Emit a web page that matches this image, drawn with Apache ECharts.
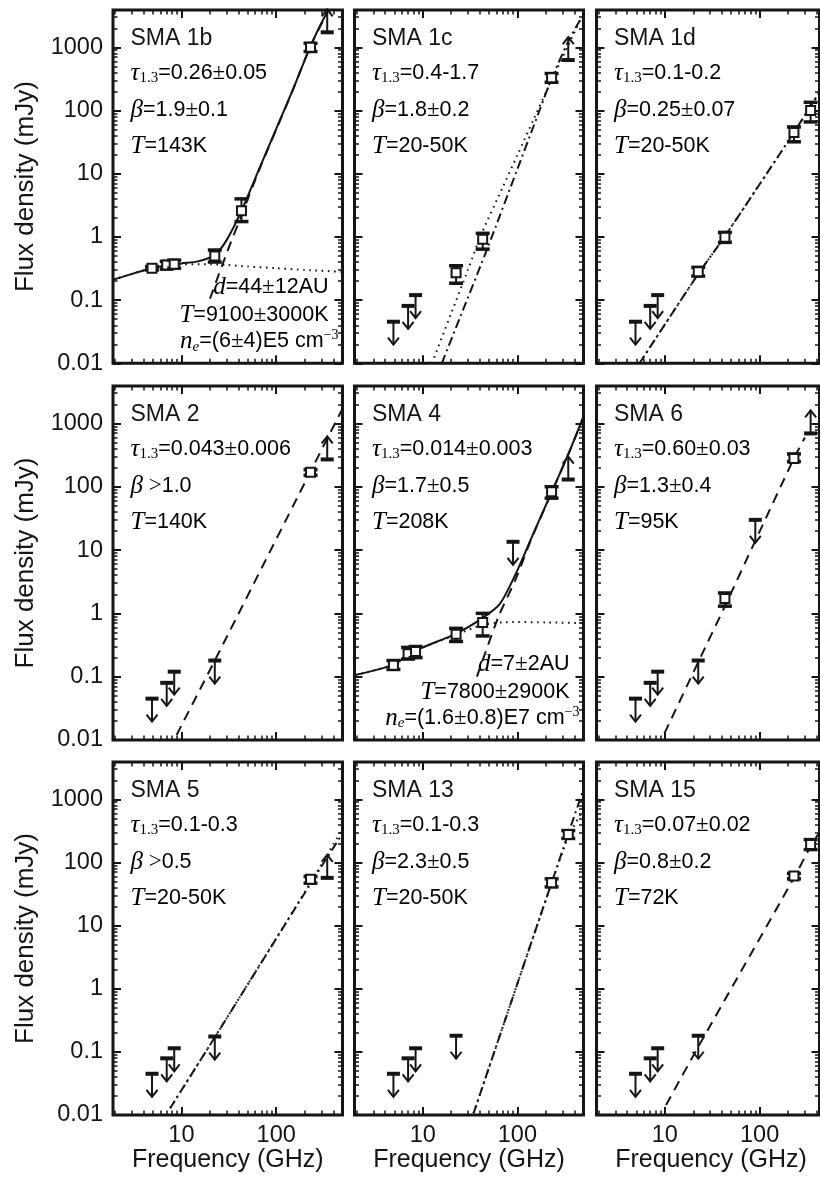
<!DOCTYPE html>
<html lang="en">
<head>
<meta charset="UTF-8">
<title>SMA SED fits</title>
<script src="https://cdn.jsdelivr.net/npm/echarts@6/dist/echarts.min.js"></script>
<style>
  html, body { margin: 0; padding: 0; background: #fff; }
  #main { width: 820px; height: 1178px; }
</style>
</head>
<body>
<div id="main"></div>
<script>
var ink = '#151515';
var grey = '#6a6a6a';
var sans = '"Liberation Sans", Arial, Helvetica, sans-serif';
var serif = '"Liberation Serif", "DejaVu Serif", serif';

// tick labels
var yTickLabels = ['0.01', '0.1', '1', '10', '100', '1000'];
var xTickLabels = ['10', '100'];

// ---- data: [GHz, mJy, low, high] for detections, [GHz, mJy] for limits, [GHz, mJy] for model curves
// SMA 1b
var sma1bPoints = [[4.9, 0.32, 0.30, 0.34], [7.0, 0.36, 0.31, 0.41], [8.4, 0.37, 0.32, 0.43], [22.5, 0.50, 0.40, 0.62], [43, 2.6, 1.75, 4.0], [230, 1000, 860, 1160]];
var sma1bUpper = [];
var sma1bLower = [[345, 1730]];
var sma1bTotal = [[1.9, 0.21], [4.9, 0.32], [10, 0.38], [15, 0.41], [22.5, 0.52], [30, 0.89], [43, 2.6], [67.5, 12.8], [101, 53], [151, 220], [227, 1000], [290, 2200], [355, 3900]];
var sma1bDust = [[20, 0.105], [30, 0.55], [43, 2.2], [67.5, 12.4], [101, 52], [151, 218], [227, 1000], [355, 3900]];
var sma1bFreeFree = [[1.9, 0.21], [4.9, 0.32], [10, 0.37], [20, 0.37], [30, 0.36], [50, 0.34], [100, 0.32], [200, 0.30], [510, 0.28]];

// SMA 1c
var sma1cPoints = [[22.5, 0.27, 0.185, 0.35], [43, 0.92, 0.64, 1.14], [230, 330, 280, 385]];
var sma1cUpper = [[4.9, 0.0455], [7.0, 0.081], [8.4, 0.12]];
var sma1cLower = [[345, 630]];
var sma1cCold = [[12.5, 0.01], [20, 0.062], [30, 0.30], [42, 1.14], [70, 6.1], [100, 19.7], [150, 75], [230, 300], [350, 1130], [480, 3050]];
var sma1cWarm = [[15.9, 0.01], [25, 0.055], [49, 0.7], [100, 11.8], [150, 59], [230, 320], [350, 1300], [460, 2700]];

// SMA 1d
var sma1dPoints = [[22.5, 0.28, 0.24, 0.33], [43, 0.99, 0.82, 1.18], [230, 45, 32, 55], [345, 100, 66, 135]];
var sma1dUpper = [[4.9, 0.0455], [7.0, 0.081], [8.4, 0.12]];
var sma1dLower = [];
var sma1dCold = [[5.4, 0.01], [22.5, 0.26], [42.5, 1.0], [230, 45], [348, 120], [428, 195]];
var sma1dWarm = [[5.4, 0.01], [22.5, 0.26], [42.5, 1.0], [230, 45], [348, 120], [428, 195]];

// SMA 2
var sma2Points = [[230, 170, 152, 186]];
var sma2Upper = [[4.9, 0.045], [7.0, 0.08], [8.4, 0.12], [22.5, 0.18]];
var sma2Lower = [[345, 270]];
var sma2Dust = [[8.9, 0.012], [22.5, 0.18], [230, 174], [491, 1620]];

// SMA 4
var sma4Points = [[4.9, 0.152, 0.13, 0.18], [7.0, 0.23, 0.19, 0.29], [8.4, 0.25, 0.20, 0.30], [22.5, 0.47, 0.36, 0.58], [43, 0.72, 0.44, 1.0], [230, 83, 66, 100]];
var sma4Upper = [[90, 13.5]];
var sma4Lower = [[345, 130]];
var sma4Total = [[1.94, 0.106], [4.9, 0.155], [8, 0.25], [22.5, 0.48], [43, 0.85], [65.6, 1.43], [94.6, 4.0], [142, 16], [235, 88], [360, 380], [497, 1270]];
var sma4Dust = [[37.4, 0.1], [63, 0.88], [94.6, 3.3], [142, 15.5], [235, 87], [360, 375], [500, 1270]];
var sma4FreeFree = [[1.94, 0.106], [4.9, 0.155], [8, 0.25], [22.5, 0.46], [43, 0.66], [70, 0.72], [100, 0.73], [200, 0.72], [510, 0.70]];

// SMA 6
var sma6Points = [[43, 1.72, 1.3, 2.1], [230, 280, 250, 330]];
var sma6Upper = [[4.9, 0.045], [7.0, 0.08], [8.4, 0.12], [22.5, 0.18], [90, 30]];
var sma6Lower = [[345, 695]];
var sma6Dust = [[9.9, 0.0127], [22.5, 0.17], [43, 1.3], [90, 14], [230, 280], [300, 600]];

// SMA 5
var sma5Points = [[230, 54, 47, 60]];
var sma5Upper = [[4.9, 0.045], [7.0, 0.079], [8.4, 0.114], [22.5, 0.175]];
var sma5Lower = [[345, 57]];
var sma5Cold = [[7.6, 0.0128], [22.5, 0.17], [230, 48], [493, 330]];
var sma5Warm = [[7.6, 0.0128], [22.5, 0.17], [230, 46], [493, 278]];

// SMA 13
var sma13Points = [[230, 47.6, 41, 55], [345, 278, 240, 320]];
var sma13Upper = [[4.9, 0.045], [7.0, 0.079], [8.4, 0.114], [22.5, 0.18]];
var sma13Lower = [];
var sma13Cold = [[34.4, 0.0106], [100, 1.2], [230, 47], [345, 250], [500, 700]];
var sma13Warm = [[34.4, 0.0106], [100, 1.2], [230, 47.6], [345, 285], [500, 1440]];

// SMA 15
var sma15Points = [[230, 61, 55, 67], [345, 193, 160, 230]];
var sma15Upper = [[4.9, 0.045], [7.0, 0.079], [8.4, 0.114], [22.5, 0.18]];
var sma15Lower = [];
var sma15Dust = [[10.3, 0.0144], [22.5, 0.12], [230, 57], [345, 180], [428, 300]];

// panel text
var panelNames = ['SMA 1b', 'SMA 1c', 'SMA 1d', 'SMA 2', 'SMA 4', 'SMA 6', 'SMA 5', 'SMA 13', 'SMA 15'];
var tauText = ['=0.26±0.05', '=0.4-1.7', '=0.1-0.2', '=0.043±0.006', '=0.014±0.003', '=0.60±0.03', '=0.1-0.3', '=0.1-0.3', '=0.07±0.02'];
var betaText = ['=1.9±0.1', '=1.8±0.2', '=0.25±0.07', ' >1.0', '=1.7±0.5', '=1.3±0.4', ' >0.5', '=2.3±0.5', '=0.8±0.2'];
var tempText = ['=143K', '=20-50K', '=20-50K', '=140K', '=208K', '=95K', '=20-50K', '=20-50K', '=72K'];
var ffText = [
  {panel: 0, d: '=44±12AU', T: '=9100±3000K', ne: '=(6±4)E5 cm'},
  {panel: 4, d: '=7±2AU', T: '=7800±2900K', ne: '=(1.6±0.8)E7 cm'}
];

// layout
var colLeft = [113, 354.5, 596.5];
var colWidth = [229.5, 229, 223];
var colMax = [500, 500, 428];
var rowTop = [10, 386, 762];
var rowHeight = [353.3, 354, 353];

var solid = 'solid', dashed = [10, 7], dotted = [1.6, 4.6], dashDot = [9, 4, 2, 4];

var panelData = [
  {pts: sma1bPoints, up: sma1bUpper, lo: sma1bLower, lines: [[sma1bFreeFree, dotted], [sma1bDust, dashed], [sma1bTotal, solid]]},
  {pts: sma1cPoints, up: sma1cUpper, lo: sma1cLower, lines: [[sma1cCold, dotted], [sma1cWarm, dashDot]]},
  {pts: sma1dPoints, up: sma1dUpper, lo: sma1dLower, lines: [[sma1dCold, dotted], [sma1dWarm, dashDot]]},
  {pts: sma2Points, up: sma2Upper, lo: sma2Lower, lines: [[sma2Dust, dashed]]},
  {pts: sma4Points, up: sma4Upper, lo: sma4Lower, lines: [[sma4FreeFree, dotted], [sma4Dust, dashed], [sma4Total, solid]]},
  {pts: sma6Points, up: sma6Upper, lo: sma6Lower, lines: [[sma6Dust, dashed]]},
  {pts: sma5Points, up: sma5Upper, lo: sma5Lower, lines: [[sma5Cold, dotted], [sma5Warm, dashDot]]},
  {pts: sma13Points, up: sma13Upper, lo: sma13Lower, lines: [[sma13Cold, dotted], [sma13Warm, dashDot]]},
  {pts: sma15Points, up: sma15Upper, lo: sma15Lower, lines: [[sma15Dust, dashed]]}
];

function sameTick(v, list) {
  for (var i = 0; i < list.length; i++) {
    if (Math.abs(Math.log10(v) - Math.log10(parseFloat(list[i]))) < 1e-6) return list[i];
  }
  return '';
}

function drawDetection(params, api) {
  var c = api.coord([api.value(0), api.value(1)]);
  var top = api.coord([api.value(0), api.value(3)])[1];
  var bot = api.coord([api.value(0), api.value(2)])[1];
  var x = c[0], h = 4.5, cw = 7;
  return {type: 'group', children: [
    {type: 'line', shape: {x1: x, y1: top, x2: x, y2: bot}, style: {stroke: ink, lineWidth: 2}},
    {type: 'line', shape: {x1: x - cw, y1: top, x2: x + cw, y2: top}, style: {stroke: ink, lineWidth: 3.5}},
    {type: 'line', shape: {x1: x - cw, y1: bot, x2: x + cw, y2: bot}, style: {stroke: ink, lineWidth: 3.5}},
    {type: 'rect', shape: {x: x - h, y: c[1] - h, width: 2 * h, height: 2 * h}, style: {fill: '#fff', stroke: ink, lineWidth: 2}}
  ]};
}

// dir 1 = upper limit (arrow down), -1 = lower limit (arrow up)
function drawLimit(dir) {
  return function (params, api) {
    var c = api.coord([api.value(0), api.value(1)]);
    var x = c[0], y = c[1], tip = y + dir * 23;
    return {type: 'group', children: [
      {type: 'rect', shape: {x: x - 6.5, y: y - 2, width: 13, height: 4}, style: {fill: ink}},
      {type: 'line', shape: {x1: x, y1: y, x2: x, y2: tip}, style: {stroke: ink, lineWidth: 2}},
      {type: 'polyline', shape: {points: [[x - 5.5, tip - dir * 7], [x, tip], [x + 5.5, tip - dir * 7]]}, style: {stroke: ink, lineWidth: 2, fill: null}}
    ]};
  };
}

var grids = [], xAxes = [], yAxes = [], series = [], graphics = [];

var rich = {
  n: {fontFamily: sans, fontSize: 21.5, color: ink, lineHeight: 26},
  m: {fontFamily: serif, fontStyle: 'italic', fontSize: 25, color: grey, lineHeight: 26},
  g: {fontFamily: serif, fontSize: 23, color: grey, lineHeight: 26},
  sub: {fontFamily: serif, fontSize: 15, color: grey, lineHeight: 16, verticalAlign: 'bottom'},
  subi: {fontFamily: serif, fontStyle: 'italic', fontSize: 15, color: grey, lineHeight: 16, verticalAlign: 'bottom'},
  sup: {fontFamily: serif, fontSize: 14, color: grey, lineHeight: 15, verticalAlign: 'top'}
};

function richNum(s) {
  return s.split('±').map(function (p) { return p ? '{n|' + p + '}' : ''; }).join('{g|±}')
    .replace('{n| >', '{g| >}{n|');
}

function addText(x, y, text, align) {
  graphics.push({type: 'text', x: x, y: y, silent: true,
    style: {text: text, rich: rich, align: align || 'left', textAlign: align || 'left', verticalAlign: 'middle', textVerticalAlign: 'middle'}});
}

for (var i = 0; i < 9; i++) {
  var r = Math.floor(i / 3), c = i % 3;
  var L = colLeft[c], T = rowTop[r], W = colWidth[c], H = rowHeight[r];
  grids.push({left: L, top: T, width: W, height: H, show: true, borderColor: ink, borderWidth: 3, backgroundColor: 'transparent'});
  ['bottom', 'top'].forEach(function (pos) {
    xAxes.push({
      type: 'log', logBase: 10, gridIndex: i, position: pos, min: 1.9, max: colMax[c],
      axisLine: {show: false},
      axisTick: {show: true, inside: true, length: 8, lineStyle: {color: ink, width: 2}},
      minorTick: {show: true, splitNumber: 9, length: 4.5, lineStyle: {color: ink, width: 1.5}},
      splitLine: {show: false},
      axisLabel: {show: pos === 'bottom' && r === 2, margin: 9, fontSize: 23.5, color: ink, fontFamily: sans,
        showMinLabel: false, showMaxLabel: false,
        formatter: function (v) { return sameTick(v, xTickLabels); }}
    });
  });
  ['left', 'right'].forEach(function (pos) {
    yAxes.push({
      type: 'log', logBase: 10, gridIndex: i, position: pos, min: 0.01, max: 3900,
      axisLine: {show: false},
      axisTick: {show: true, inside: true, length: 8, lineStyle: {color: ink, width: 2}},
      minorTick: {show: true, splitNumber: 9, length: 4.5, lineStyle: {color: ink, width: 1.5}},
      splitLine: {show: false},
      axisLabel: {show: pos === 'left' && c === 0, margin: 10, fontSize: 23.5, color: ink, fontFamily: sans,
        formatter: function (v) { return sameTick(v, yTickLabels); }}
    });
  });
  var xi = 2 * i, yi = 2 * i;
  var pd = panelData[i];
  pd.lines.forEach(function (ln) {
    series.push({type: 'line', xAxisIndex: xi, yAxisIndex: yi, data: ln[0], symbol: 'none', smooth: 0.25,
      silent: true, z: 2, lineStyle: {color: ink, width: 2, type: ln[1]}});
  });
  series.push({type: 'custom', xAxisIndex: xi, yAxisIndex: yi, data: pd.pts, renderItem: drawDetection, silent: true, z: 4});
  series.push({type: 'custom', xAxisIndex: xi, yAxisIndex: yi, data: pd.up, renderItem: drawLimit(1), silent: true, z: 4});
  series.push({type: 'custom', xAxisIndex: xi, yAxisIndex: yi, data: pd.lo, renderItem: drawLimit(-1), silent: true, z: 4});

  // annotation block
  var tx = L + 17.5;
  graphics.push({type: 'text', x: tx, y: T + 29, silent: true,
    style: {text: panelNames[i], font: '23px ' + sans, fill: ink, verticalAlign: 'middle', textVerticalAlign: 'middle'}});
  addText(tx, T + 63, '{m|τ}{sub|1.3}' + richNum(tauText[i]));
  addText(tx, T + 100, '{m|β}' + richNum(betaText[i]));
  addText(tx, T + 136, '{m|T}' + richNum(tempText[i]));
}

ffText.forEach(function (f) {
  var r = Math.floor(f.panel / 3), c = f.panel % 3;
  var R = colLeft[c] + colWidth[c], B = rowTop[r] + rowHeight[r];
  addText(R - 14, B - 76, '{m|d}' + richNum(f.d), 'right');
  addText(R - 14, B - 48, '{m|T}' + richNum(f.T), 'right');
  addText(R - 4, B - 22, '{m|n}{subi|e}' + richNum(f.ne) + '{sup|−3}', 'right');
});

// axis titles
for (var rr = 0; rr < 3; rr++) {
  graphics.push({type: 'text', x: 25.5, y: rowTop[rr] + rowHeight[rr] / 2, rotation: Math.PI / 2, silent: true,
    style: {text: 'Flux density (mJy)', font: '26px ' + sans, fill: ink, align: 'center', textAlign: 'center', verticalAlign: 'middle', textVerticalAlign: 'middle'}});
}
var xTitleCenters = [227.75, 469, 711];
xTitleCenters.forEach(function (cx) {
  graphics.push({type: 'text', x: cx, y: 1160, silent: true,
    style: {text: 'Frequency (GHz)', font: '25px ' + sans, fill: ink, align: 'center', textAlign: 'center', verticalAlign: 'middle', textVerticalAlign: 'middle'}});
});

var chart = echarts.init(document.getElementById('main'), null, {renderer: 'canvas'});
chart.setOption({
  animation: false,
  backgroundColor: '#fff',
  textStyle: {fontFamily: sans},
  grid: grids,
  xAxis: xAxes,
  yAxis: yAxes,
  series: series,
  graphic: graphics
});
</script>
</body>
</html>
